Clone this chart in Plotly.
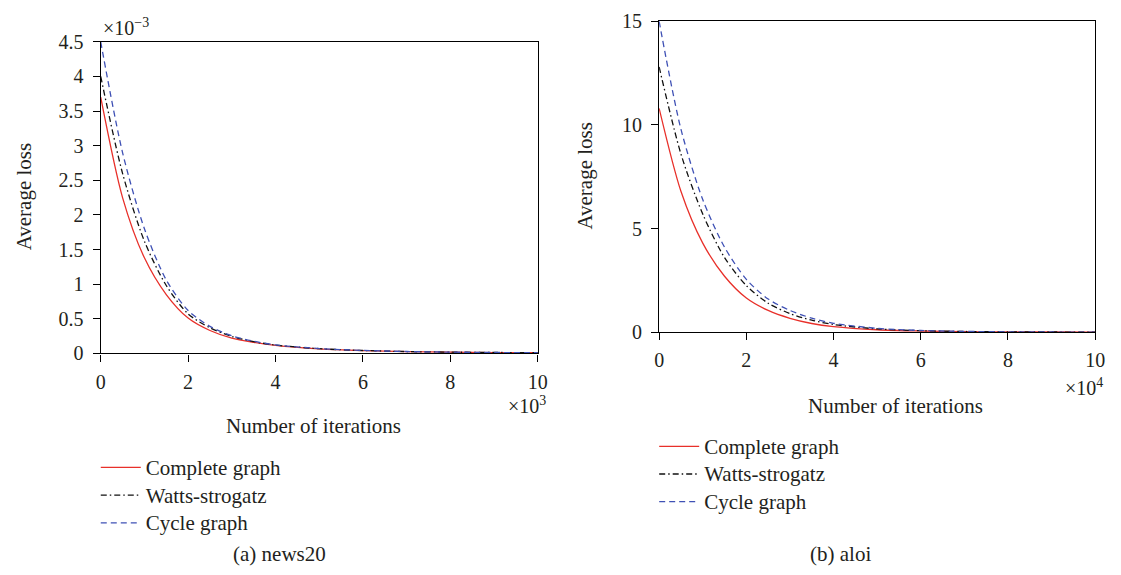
import plotly.graph_objects as go

W, H = 1121, 575
FONT = "Liberation Serif"
TXT = "#231f20"

# ---- data ----
# (a) news20: iterations in units of 1e3, loss in units of 1e-3
iters_a = [0, 0.5, 1, 1.5, 2, 2.5, 3, 3.5, 4, 5, 6, 7, 8, 9, 10]
complete_a = [3.70, 2.25, 1.38, 0.85, 0.51, 0.33, 0.22, 0.16, 0.115, 0.065, 0.040, 0.025, 0.017, 0.012, 0.010]
watts_a = [4.00, 2.60, 1.62, 0.98, 0.57, 0.37, 0.245, 0.17, 0.12, 0.068, 0.042, 0.026, 0.018, 0.013, 0.010]
cycle_a = [4.50, 2.90, 1.80, 1.06, 0.62, 0.39, 0.255, 0.175, 0.123, 0.070, 0.043, 0.027, 0.018, 0.013, 0.010]

# (b) aloi: iterations in units of 1e4
iters_b = [0, 0.5, 1, 1.5, 2, 2.5, 3, 3.5, 4, 5, 6, 7, 8, 9, 10]
complete_b = [10.8, 6.8, 4.3, 2.7, 1.65, 1.05, 0.67, 0.42, 0.27, 0.12, 0.06, 0.03, 0.015, 0.010, 0.005]
watts_b = [12.8, 8.6, 5.7, 3.6, 2.25, 1.40, 0.90, 0.58, 0.37, 0.16, 0.075, 0.035, 0.018, 0.010, 0.006]
cycle_b = [15.0, 9.8, 6.4, 4.1, 2.55, 1.60, 1.05, 0.68, 0.43, 0.19, 0.085, 0.040, 0.020, 0.010, 0.006]

series_names = ["Complete graph", "Watts-strogatz", "Cycle graph"]
colors = ["#e8302a", "#111111", "#3f51b5"]
dashes = ["solid", "6px,3px,1.5px,3px", "6px,4px"]

def label(name):
    return '<span style="font-size:21px">%s</span>' % name

fig = go.Figure()

for name, ys, col, dsh in zip(series_names, [complete_a, watts_a, cycle_a], colors, dashes):
    fig.add_trace(go.Scatter(x=iters_a, y=ys, mode="lines", name=label(name),
                             line=dict(color=col, width=1.3, dash=dsh, shape="spline", smoothing=0.8),
                             xaxis="x", yaxis="y", legend="legend"))
for name, ys, col, dsh in zip(series_names, [complete_b, watts_b, cycle_b], colors, dashes):
    fig.add_trace(go.Scatter(x=iters_b, y=ys, mode="lines", name=label(name),
                             line=dict(color=col, width=1.3, dash=dsh, shape="spline", smoothing=0.8),
                             xaxis="x2", yaxis="y2", legend="legend2"))

def px(x):
    return x / W

def py(y):
    return 1 - y / H

axis_common = dict(showgrid=False, zeroline=False, showline=True, linecolor="black",
                   linewidth=1.3, mirror=True, ticks="outside", ticklen=7, tickwidth=1.3,
                   tickcolor="black", tickfont=dict(family=FONT, size=20, color=TXT))

fig.update_layout(
    width=W, height=H,
    margin=dict(l=0, r=0, t=0, b=0),
    paper_bgcolor="white", plot_bgcolor="white",
    font=dict(family=FONT, size=20, color=TXT),
    xaxis=dict(domain=[px(97), px(540)], range=[0, 10], dtick=2, anchor="y",
               ticklabelstandoff=3, **axis_common),
    yaxis=dict(domain=[py(356), py(32)], range=[0, 4.5], dtick=0.5, anchor="x",
               ticklabelstandoff=5, **axis_common),
    xaxis2=dict(domain=[px(663), px(1105)], range=[0, 10], dtick=2, anchor="y2",
                ticklabelstandoff=3, **axis_common),
    yaxis2=dict(domain=[py(334), py(10.7)], range=[0, 15], dtick=5, anchor="x2",
                ticklabelstandoff=5, **axis_common),
    legend=dict(x=px(92), y=py(455), xanchor="left", yanchor="top",
                font=dict(family=FONT, size=19, color=TXT), bgcolor="rgba(0,0,0,0)",
                tracegroupgap=0, itemwidth=40),
    legend2=dict(x=px(658), y=py(433), xanchor="left", yanchor="top",
                 font=dict(family=FONT, size=19, color=TXT), bgcolor="rgba(0,0,0,0)",
                 tracegroupgap=0, itemwidth=40),
    showlegend=True,
)

annots = [
    dict(text="Average loss", x=px(19), y=py(193), textangle=-90, size=21),
    dict(text="Average loss", x=px(588), y=py(171), textangle=-90, size=21),
    dict(text="Number of iterations", x=px(313), y=py(432), size=21),
    dict(text="Number of iterations", x=px(903), y=py(411), size=21),
    dict(text="(a) news20", x=px(278), y=py(565), size=21),
    dict(text="(b) aloi", x=px(847), y=py(565), size=21),
]
for a in annots:
    fig.add_annotation(text=a["text"], x=a["x"], y=a["y"], xref="paper", yref="paper",
                       xanchor="center", yanchor="middle", showarrow=False,
                       textangle=a.get("textangle", 0),
                       font=dict(family=FONT, size=a["size"], color=TXT))

# exponent labels
fig.add_annotation(text="×10<sup>−3</sup>", x=px(97), y=py(17), xref="paper", yref="paper",
                   xanchor="left", yanchor="middle", showarrow=False,
                   font=dict(family=FONT, size=20, color=TXT))
fig.add_annotation(text="×10<sup>3</sup>", x=px(550), y=py(410), xref="paper", yref="paper",
                   xanchor="right", yanchor="middle", showarrow=False,
                   font=dict(family=FONT, size=20, color=TXT))
fig.add_annotation(text="×10<sup>4</sup>", x=px(1115), y=py(391), xref="paper", yref="paper",
                   xanchor="right", yanchor="middle", showarrow=False,
                   font=dict(family=FONT, size=20, color=TXT))

fig.write_html("out.html")
